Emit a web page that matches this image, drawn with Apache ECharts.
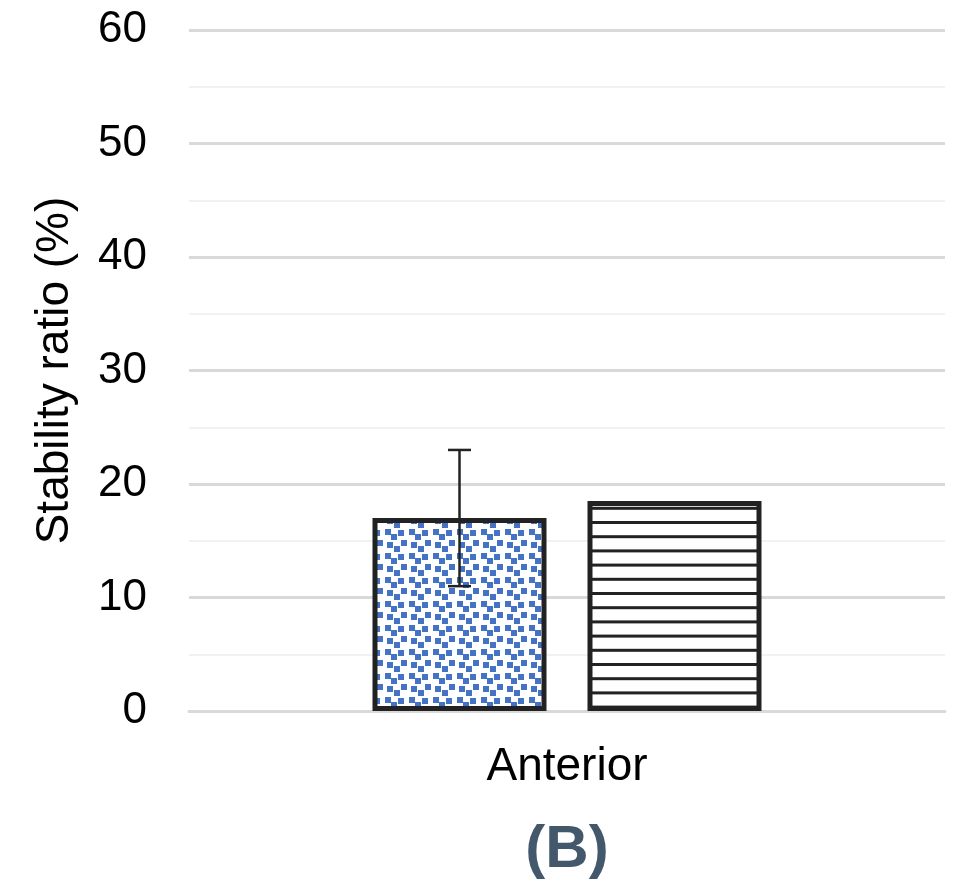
<!DOCTYPE html>
<html>
<head>
<meta charset="utf-8">
<script src="https://cdn.jsdelivr.net/npm/echarts@6/dist/echarts.min.js"></script>
<style>
html,body{margin:0;padding:0;background:#fff;}
#chart{width:960px;height:883px;}
</style>
</head>
<body>
<div id="chart"></div>
<script>
// ---- data ----
var categories = ['Anterior'];
var seriesA = [17];          // dotted blue bar
var seriesB = [18.5];        // horizontal striped bar
var errorA = [6];            // +/- error on dotted bar
var yTicks = [0, 10, 20, 30, 40, 50, 60];
var panelLabel = '(B)';
var yAxisName = 'Stability ratio (%)';

// ---- patterns ----
function dotPattern() {
  var c = document.createElement('canvas');
  c.width = 24; c.height = 24;
  var g = c.getContext('2d');
  g.fillStyle = '#ffffff';
  g.fillRect(0, 0, 24, 24);
  g.fillStyle = '#4472C4';
  var pts = [[1,1],[7,6],[14,2],[3,14],[10,18],[17,12]];
  pts.forEach(function(p){ g.fillRect(p[0], p[1], 6, 6); });
  return c;
}
function stripePattern() {
  var c = document.createElement('canvas');
  c.width = 10; c.height = 71;
  var g = c.getContext('2d');
  g.fillStyle = '#ffffff';
  g.fillRect(0, 0, 10, 71);
  g.fillStyle = '#222222';
  [11.3, 25.5, 39.7, 53.9, 68.1].forEach(function(y){ g.fillRect(0, y - 1.5, 10, 3); });
  return c;
}

var barWidth = 174;
var barGap = 0.2356;
var errOffset = -(barWidth + barWidth * barGap) / 2;

var chart = echarts.init(document.getElementById('chart'));
var option = {
  animation: false,
  grid: { left: 189, right: 15, top: 30, bottom: 172 },
  xAxis: {
    type: 'category',
    data: categories,
    axisLine: { show: true, lineStyle: { color: '#d9d9d9', width: 3 } },
    axisTick: { show: false },
    axisLabel: { fontFamily: 'Liberation Sans, Arial, sans-serif', fontSize: 46, color: '#000', margin: 33 }
  },
  yAxis: {
    type: 'value',
    min: yTicks[0],
    max: yTicks[yTicks.length - 1],
    interval: 10,
    name: yAxisName,
    nameLocation: 'middle',
    nameGap: 111,
    nameTextStyle: { fontFamily: 'Liberation Sans, Arial, sans-serif', fontSize: 46, color: '#000' },
    axisLine: { show: false },
    axisTick: { show: false },
    axisLabel: { fontFamily: 'Liberation Sans, Arial, sans-serif', fontSize: 44, color: '#000', margin: 42 },
    splitLine: { show: true, lineStyle: { color: '#d9d9d9', width: 3 } },
    minorTick: { show: false, splitNumber: 2 },
    minorSplitLine: { show: true, lineStyle: { color: '#f2f2f2', width: 2 } }
  },
  graphic: [{
    type: 'text',
    x: 567, y: 850,
    style: {
      text: panelLabel,
      fontFamily: 'Liberation Sans, Arial, sans-serif',
      fontWeight: 'bold',
      fontSize: 60,
      fill: '#44586C',
      textAlign: 'center',
      textVerticalAlign: 'middle'
    }
  }],
  series: [
    {
      type: 'bar',
      data: seriesA,
      barWidth: barWidth,
      barGap: (barGap * 100) + '%',
      itemStyle: { color: { image: dotPattern(), repeat: 'repeat' }, borderColor: '#222', borderWidth: 5 }
    },
    {
      type: 'bar',
      data: seriesB,
      barWidth: barWidth,
      itemStyle: { color: { image: stripePattern(), repeat: 'repeat' }, borderColor: '#222', borderWidth: 5 }
    },
    {
      type: 'custom',
      data: seriesA.map(function(v, i){ return [i, v - errorA[i], v + errorA[i]]; }),
      z: 10,
      renderItem: function(params, api) {
        var lo = api.coord([api.value(0), api.value(1)]);
        var hi = api.coord([api.value(0), api.value(2)]);
        var x = lo[0] + errOffset;
        var cap = 11.5;
        var st = { stroke: '#222', lineWidth: 2.5 };
        return {
          type: 'group',
          children: [
            { type: 'line', shape: { x1: x, y1: lo[1], x2: x, y2: hi[1] }, style: st },
            { type: 'line', shape: { x1: x - cap, y1: hi[1], x2: x + cap, y2: hi[1] }, style: st },
            { type: 'line', shape: { x1: x - cap, y1: lo[1], x2: x + cap, y2: lo[1] }, style: st }
          ]
        };
      }
    }
  ]
};
chart.setOption(option);
</script>
</body>
</html>
